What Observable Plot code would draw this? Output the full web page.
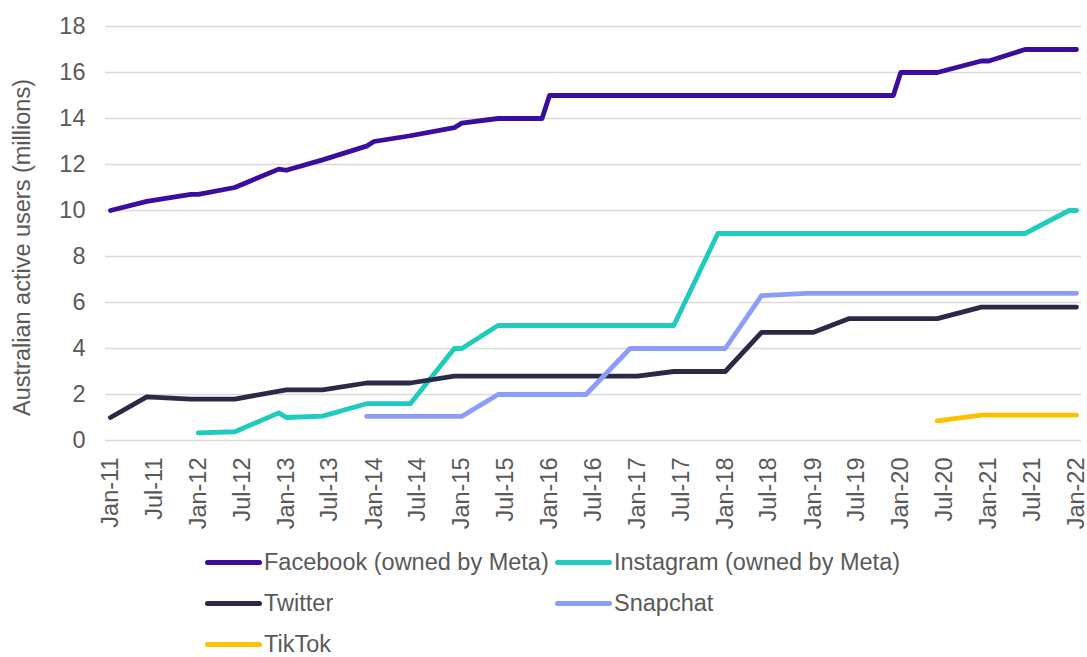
<!DOCTYPE html>
<html>
<head>
<meta charset="utf-8">
<script src="https://cdn.jsdelivr.net/npm/d3@7"></script>
<script src="https://cdn.jsdelivr.net/npm/@observablehq/plot@0.6"></script>
<style>
  html, body { margin: 0; padding: 0; background: #fff; }
  body { width: 1087px; height: 657px; overflow: hidden; font-family: "Liberation Sans", Arial, sans-serif; color: #595959; }
  #legend { display: grid; grid-template-columns: 350px 350px; grid-auto-rows: 41px; padding-left: 205px; margin-top: 2px; font-size: 23.5px; line-height: 1; }
  .item { display: flex; align-items: center; white-space: nowrap; }
  .sw { width: 57px; height: 5px; border-radius: 3px; margin-right: 2px; flex: none; }
</style>
</head>
<body>
<div id="chart"></div>
<div id="legend"></div>
<script>
// ---- data (month, millions) ----
const seriesNames = ["Facebook (owned by Meta)", "Instagram (owned by Meta)", "Twitter", "Snapchat", "TikTok"];
const seriesColors = ["#3b0ca0", "#1ecbbd", "#2b2948", "#8c9cfb", "#ffc000"];

const facebook = [
  ["2011-01", 10.0], ["2011-06", 10.4], ["2011-12", 10.7], ["2012-01", 10.7], ["2012-06", 11.0],
  ["2012-12", 11.8], ["2013-01", 11.75], ["2013-06", 12.2], ["2013-12", 12.8], ["2014-01", 13.0],
  ["2014-06", 13.25], ["2014-12", 13.6], ["2015-01", 13.8], ["2015-06", 14.0], ["2015-12", 14.0],
  ["2016-01", 15.0], ["2019-12", 15.0], ["2020-01", 16.0], ["2020-06", 16.0], ["2020-12", 16.5],
  ["2021-01", 16.5], ["2021-06", 17.0], ["2022-01", 17.0]
];
const instagram = [
  ["2012-01", 0.33], ["2012-06", 0.38], ["2012-12", 1.2], ["2013-01", 1.0], ["2013-06", 1.06],
  ["2013-12", 1.6], ["2014-06", 1.6], ["2014-12", 4.0], ["2015-01", 4.0], ["2015-06", 5.0],
  ["2017-06", 5.0], ["2017-12", 9.0], ["2021-06", 9.0], ["2021-12", 10.0], ["2022-01", 10.0]
];
const twitter = [
  ["2011-01", 1.0], ["2011-06", 1.9], ["2011-12", 1.8], ["2012-06", 1.8], ["2013-01", 2.2],
  ["2013-06", 2.2], ["2013-12", 2.5], ["2014-06", 2.5], ["2014-12", 2.8], ["2017-01", 2.8],
  ["2017-06", 3.0], ["2018-01", 3.0], ["2018-06", 4.7], ["2019-01", 4.7], ["2019-06", 5.3],
  ["2020-06", 5.3], ["2020-12", 5.8], ["2022-01", 5.8]
];
const snapchat = [
  ["2013-12", 1.05], ["2015-01", 1.05], ["2015-06", 2.0], ["2016-06", 2.0], ["2016-12", 4.0],
  ["2018-01", 4.0], ["2018-06", 6.3], ["2018-12", 6.4], ["2022-01", 6.4]
];
const tiktok = [
  ["2020-06", 0.85], ["2020-12", 1.1], ["2022-01", 1.1]
];

const yTicks = [0, 2, 4, 6, 8, 10, 12, 14, 16, 18];
const xTickMonths = [
  "2011-01", "2011-07", "2012-01", "2012-07", "2013-01", "2013-07", "2014-01", "2014-07",
  "2015-01", "2015-07", "2016-01", "2016-07", "2017-01", "2017-07", "2018-01", "2018-07",
  "2019-01", "2019-07", "2020-01", "2020-07", "2021-01", "2021-07", "2022-01"
];
const yTitle = "Australian active users (millions)";

// ---- build ----
const parse = d3.utcParse("%Y-%m");
const allSeries = [facebook, instagram, twitter, snapchat, tiktok];
const rows = allSeries.flatMap((s, i) => s.map(([m, v]) => ({ series: seriesNames[i], date: parse(m), value: v })));
const xTicks = xTickMonths.map(parse);

const chart = Plot.plot({
  width: 1087,
  height: 540,
  marginLeft: 105,
  marginRight: 6,
  marginTop: 26,
  marginBottom: 100,
  style: { fontFamily: "'Liberation Sans', Arial, sans-serif", fontSize: "23.5px", color: "#595959", background: "white", overflow: "visible" },
  x: { type: "utc", domain: [xTicks[0], xTicks[xTicks.length - 1]], insetLeft: 5, insetRight: 5 },
  y: { domain: [0, 18] },
  color: { domain: seriesNames, range: seriesColors },
  marks: [
    Plot.ruleY(yTicks, { stroke: "#d9d9d9", strokeWidth: 1.3 }),
    Plot.axisY({ ticks: yTicks, tickSize: 0, tickPadding: 20, label: null }),
    Plot.axisX({ ticks: xTicks, tickFormat: d3.utcFormat("%b-%y"), tickRotate: -90, tickSize: 0, tickPadding: 17, label: null }),
    Plot.line(rows, { x: "date", y: "value", z: "series", stroke: "series", strokeWidth: 4.8, strokeLinecap: "round", strokeLinejoin: "round" }),
    Plot.text([yTitle], { text: d => d, frameAnchor: "left", rotate: -90, dx: -83, dy: 14, textAnchor: "middle", lineAnchor: "middle", fill: "#595959" })
  ]
});
document.getElementById("chart").appendChild(chart);

// ---- legend ----
const legend = document.getElementById("legend");
seriesNames.forEach((name, i) => {
  const item = document.createElement("div");
  item.className = "item";
  const sw = document.createElement("span");
  sw.className = "sw";
  sw.style.background = seriesColors[i];
  const label = document.createElement("span");
  label.textContent = name;
  item.appendChild(sw);
  item.appendChild(label);
  legend.appendChild(item);
});
</script>
</body>
</html>
